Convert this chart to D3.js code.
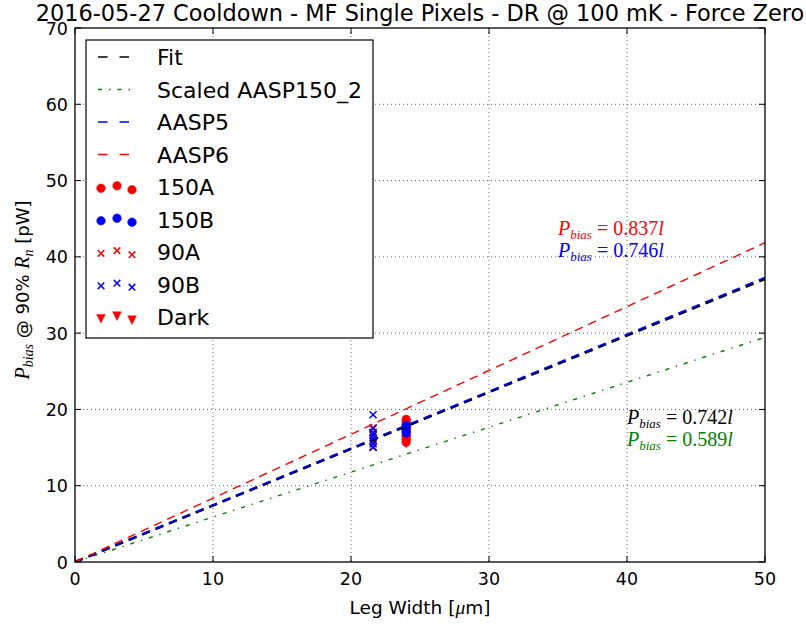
<!DOCTYPE html>
<html>
<head>
<meta charset="utf-8">
<script src="https://cdn.jsdelivr.net/npm/d3@7"></script>
<style>
  html, body { margin: 0; padding: 0; background: #fff; }
  svg { display: block; }
  text { font-family: "DejaVu Sans", sans-serif; fill: #000; }
  .math { font-family: "Liberation Serif", "DejaVu Serif", serif; }
</style>
</head>
<body>
<svg id="chart" width="806" height="625"></svg>
<script>
// ---- data ----
const titleText = "2016-05-27 Cooldown - MF Single Pixels - DR @ 100 mK - Force Zero";
const xTicks = [0, 10, 20, 30, 40, 50];
const yTicks = [0, 10, 20, 30, 40, 50, 60, 70];

// fitted slopes P_bias = k * l  (pW per um)
const fitNames  = ["Fit", "Scaled AASP150_2", "AASP5", "AASP6"];
const fitSlopes = [0.742, 0.589, 0.746, 0.837];
const fitColors = ["#000000", "#008000", "#0000ff", "#ff0000"];
const lineRange = [0, 50];

// measured pixels: leg width [um] and P_bias @ 90% Rn [pW]
const width90  = 21.6;
const width150 = 24.0;
const p90A  = [17.6, 16.9, 16.3, 15.8, 15.1];
const p90B  = [19.3, 17.5, 17.0, 16.6, 16.0, 15.5, 15.0];
const p150A = [18.7, 18.4, 18.0, 17.6, 17.1, 16.6, 16.1, 15.7];
const p150B = [17.9, 17.4, 16.9];
const pDark = [17.2, 16.6, 16.0, 15.6];

// ---- layout ----
const svg = d3.select("#chart");
const L = 75, R = 765, T = 28, B = 562;
const x = d3.scaleLinear().domain([0, 50]).range([L, R]);
const y = d3.scaleLinear().domain([0, 70]).range([B, T]);

// title, sized to span 769px centred over the axes
const title = svg.append("text")
  .attr("x", (L + R) / 2).attr("y", 21)
  .attr("text-anchor", "middle")
  .style("font-size", "20px")
  .text(titleText);
const tw = title.node().getComputedTextLength();
title.style("font-size", (20 * 769 / tw).toFixed(2) + "px");

// grid
const grid = svg.append("g").attr("stroke", "#000").attr("stroke-width", 0.8)
  .attr("stroke-dasharray", "1,3").attr("opacity", 0.75);
xTicks.slice(1, -1).forEach(t => grid.append("line")
  .attr("x1", x(t)).attr("x2", x(t)).attr("y1", T).attr("y2", B));
yTicks.slice(1, -1).forEach(t => grid.append("line")
  .attr("x1", L).attr("x2", R).attr("y1", y(t)).attr("y2", y(t)));

// clip path for plot area
svg.append("clipPath").attr("id", "plotClip")
  .append("rect").attr("x", L).attr("y", T).attr("width", R - L).attr("height", B - T);
const plot = svg.append("g").attr("clip-path", "url(#plotClip)");

// ---- scatter markers (drawn beneath the fit lines) ----
function drawX(g, cx, cy, color, s) {
  g.append("path")
    .attr("d", `M${cx - s},${cy - s}L${cx + s},${cy + s}M${cx - s},${cy + s}L${cx + s},${cy - s}`)
    .attr("stroke", color).attr("stroke-width", 1.5).attr("fill", "none");
}
function drawCircle(g, cx, cy, color, r) {
  g.append("circle").attr("cx", cx).attr("cy", cy).attr("r", r)
    .attr("fill", color).attr("stroke", color).attr("stroke-width", 0.5);
}
function drawTri(g, cx, cy, color, s) {
  g.append("path")
    .attr("d", `M${cx - s},${cy - s * 0.9}L${cx + s},${cy - s * 0.9}L${cx},${cy + s * 1.1}Z`)
    .attr("fill", color).attr("stroke", color).attr("stroke-width", 0.5);
}
const marks = plot.append("g");
p150A.forEach(v => drawCircle(marks, x(width150), y(v), "#ff0000", 4.3));
pDark.forEach(v => drawTri(marks, x(width150), y(v), "#ff0000", 4.5));
p150B.forEach(v => drawCircle(marks, x(width150), y(v), "#0000ff", 4.3));
p90A.forEach(v => drawX(marks, x(width90), y(v), "#ff0000", 3.5));
p90B.forEach(v => drawX(marks, x(width90), y(v), "#0000ff", 3.5));

// ---- fit lines ----
const dashStyles = {
  "Fit": { dash: "8.5,6", width: 2.6 },
  "Scaled AASP150_2": { dash: "4.2,6.9,1.4,6.9", width: 1.4 },
  "AASP5": { dash: "8.5,6", width: 1.6 },
  "AASP6": { dash: "8.5,6", width: 1.4 }
};
const line = d3.line().x(d => x(d[0])).y(d => y(d[1]));
fitNames.forEach((name, i) => {
  const pts = lineRange.map(l => [l, fitSlopes[i] * l]);
  plot.append("path").attr("d", line(pts))
    .attr("fill", "none").attr("stroke", fitColors[i])
    .attr("stroke-width", dashStyles[name].width)
    .attr("stroke-dasharray", dashStyles[name].dash);
});

// ---- frame and ticks ----
svg.append("rect").attr("x", L).attr("y", T).attr("width", R - L).attr("height", B - T)
  .attr("fill", "none").attr("stroke", "#000").attr("stroke-width", 1.3);
const tk = svg.append("g").attr("stroke", "#000").attr("stroke-width", 1);
xTicks.forEach(t => {
  tk.append("line").attr("x1", x(t)).attr("x2", x(t)).attr("y1", B).attr("y2", B - 6);
  tk.append("line").attr("x1", x(t)).attr("x2", x(t)).attr("y1", T).attr("y2", T + 6);
});
yTicks.forEach(t => {
  tk.append("line").attr("x1", L).attr("x2", L + 6).attr("y1", y(t)).attr("y2", y(t));
  tk.append("line").attr("x1", R).attr("x2", R - 6).attr("y1", y(t)).attr("y2", y(t));
});
const tickFont = "17.5px";
xTicks.forEach(t => svg.append("text")
  .attr("x", x(t)).attr("y", 585).attr("text-anchor", "middle")
  .style("font-size", tickFont).text(t));
yTicks.forEach(t => svg.append("text")
  .attr("x", 68).attr("y", y(t) + 6.5).attr("text-anchor", "end")
  .style("font-size", tickFont).text(t));

// axis labels
const xl = svg.append("text").attr("x", (L + R) / 2).attr("y", 614)
  .attr("text-anchor", "middle").style("font-size", "18.5px");
xl.append("tspan").text("Leg Width [");
xl.append("tspan").attr("class", "math").style("font-style", "italic").style("font-size", "19.5px").text("μ");
xl.append("tspan").text("m]");

const yl = svg.append("text")
  .attr("transform", `translate(29,${(T + B) / 2 - 5}) rotate(-90)`)
  .attr("text-anchor", "middle").style("font-size", "18px");
yl.append("tspan").attr("class", "math").style("font-style", "italic").style("font-size", "20px").text("P");
yl.append("tspan").attr("class", "math").style("font-style", "italic").style("font-size", "14px").attr("dy", 4).text("bias");
yl.append("tspan").attr("dy", -4).text(" @ 90% ");
yl.append("tspan").attr("class", "math").style("font-style", "italic").style("font-size", "20px").text("R");
yl.append("tspan").attr("class", "math").style("font-style", "italic").style("font-size", "14px").attr("dy", 4).text("n");
yl.append("tspan").attr("dy", -4).text(" [pW]");

// ---- slope annotations ----
const annX = [35, 35, 40, 40];
const annY = [42.9, 40.0, 18.1, 15.2];
const annIdx = [3, 2, 0, 1];
annIdx.forEach((fi, j) => {
  const t = svg.append("text").attr("class", "math")
    .attr("x", x(annX[j])).attr("y", y(annY[j]))
    .style("font-size", "20px").style("fill", fitColors[fi]);
  t.append("tspan").style("font-style", "italic").text("P");
  t.append("tspan").style("font-style", "italic").style("font-size", "13px").attr("dy", 4).text("bias");
  t.append("tspan").attr("dy", -4).text(" = " + fitSlopes[fi].toFixed(3));
  t.append("tspan").style("font-style", "italic").text("l");
});

// ---- legend ----
const lg = svg.append("g");
lg.append("rect").attr("x", 86).attr("y", 40).attr("width", 287).attr("height", 298)
  .attr("fill", "#fff").attr("stroke", "#000").attr("stroke-width", 1.2);
const legendNames = ["Fit", "Scaled AASP150_2", "AASP5", "AASP6", "150A", "150B", "90A", "90B", "Dark"];
const rowY0 = 57, rowStep = 32.5;
const mkX = [101, 117, 132], mkDY = [1.3, -1.3, 2.7];
legendNames.forEach((name, i) => {
  const cy = rowY0 + i * rowStep;
  lg.append("text").attr("x", 157).attr("y", cy + 8).style("font-size", "22px").text(name);
  const fi = fitNames.indexOf(name);
  if (fi >= 0) {
    lg.append("line").attr("x1", 98).attr("x2", 130).attr("y1", cy).attr("y2", cy)
      .attr("stroke", fitColors[fi]).attr("stroke-width", 1.4)
      .attr("stroke-dasharray", name === "Scaled AASP150_2" ? "4,7,1.5,7" : "9.5,12");
  } else {
    mkX.forEach((mx, k) => {
      const my = cy + mkDY[k];
      if (name === "150A") drawCircle(lg, mx, my, "#ff0000", 4.3);
      if (name === "150B") drawCircle(lg, mx, my, "#0000ff", 4.3);
      if (name === "90A") drawX(lg, mx, my, "#ff0000", 3.3);
      if (name === "90B") drawX(lg, mx, my, "#0000ff", 3.3);
      if (name === "Dark") drawTri(lg, mx, my, "#ff0000", 4.3);
    });
  }
});
</script>
</body>
</html>
